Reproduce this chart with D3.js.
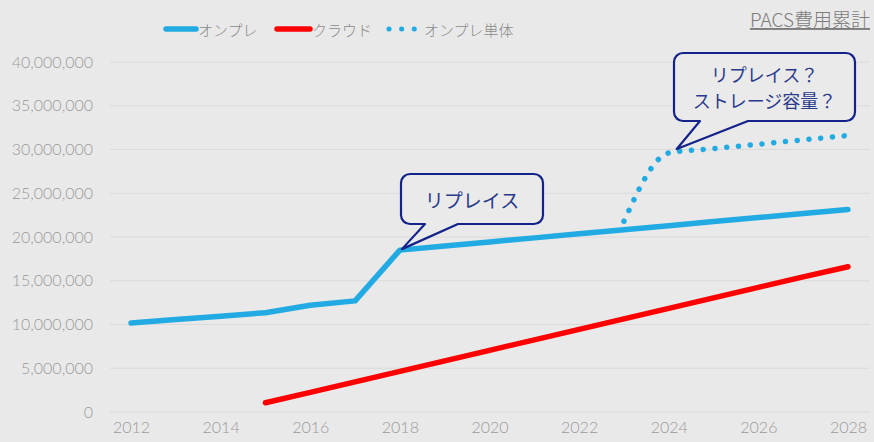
<!DOCTYPE html>
<html>
<head>
<meta charset="utf-8">
<script src="https://cdn.jsdelivr.net/npm/d3@7"></script>
<style>
  body { margin: 0; background: #e9e9e9; }
  #canvas { width: 874px; height: 442px; }
  text { font-family: Lato, "Noto Sans CJK JP", sans-serif; }
</style>
</head>
<body>
<div id="canvas"></div>
<script>
"use strict"

let svgWidth = 874;
let svgHeight = 442;

/* data (yen, cumulative) */
let years = [2012, 2013, 2014, 2015, 2016, 2017, 2018, 2019, 2020, 2021, 2022, 2023, 2024, 2025, 2026, 2027, 2028];
let onpre = [10170000, 10560000, 10950000, 11350000, 12200000, 12700000, 18500000, 18970000, 19430000,
             19900000, 20360000, 20830000, 21290000, 21760000, 22220000, 22690000, 23150000];

let cloudYears = [2015, 2016, 2017, 2018, 2019, 2020, 2021, 2022, 2023, 2024, 2025, 2026, 2027, 2028];
let cloud = [1060000, 2250000, 3450000, 4650000, 5850000, 7050000, 8250000, 9450000, 10650000,
             11850000, 13050000, 14250000, 15450000, 16600000];

let soloYears = [2023, 2024, 2025, 2026, 2027, 2028];
let solo = [21800000, 29600000, 30100000, 30600000, 31100000, 31600000];

let yTicks = [0, 5000000, 10000000, 15000000, 20000000, 25000000, 30000000, 35000000, 40000000];
let xTicks = [2012, 2014, 2016, 2018, 2020, 2022, 2024, 2026, 2028];

let seriesNames = ["オンプレ", "クラウド", "オンプレ単体"];

let blue = "#22aae2";
let red = "#ff0000";
let navy = "#13238a";

let svg = d3.select("#canvas")
    .append("svg")
    .attr("width", svgWidth)
    .attr("height", svgHeight);

svg.append("rect")
    .attr("width", svgWidth)
    .attr("height", svgHeight)
    .attr("fill", "#e9e9e9");

/* Scales */
let xScale = d3.scaleLinear()
    .domain([2012, 2028])
    .range([131, 848]);

let yScale = d3.scaleLinear()
    .domain([0, 40000000])
    .range([412, 62]);

/* gridlines */
svg.selectAll("line.grid")
    .data(yTicks)
    .join("line")
    .attr("class", "grid")
    .attr("x1", 110)
    .attr("x2", 870)
    .attr("y1", d => yScale(d))
    .attr("y2", d => yScale(d))
    .attr("stroke", "#dadada")
    .attr("stroke-width", 1);

/* y axis labels */
let yAxis = svg.append("g")
    .attr("transform", "translate(97,0)")
    .call(d3.axisLeft(yScale).tickValues(yTicks).tickFormat(d3.format(",")).tickSize(0).tickPadding(4));
yAxis.select(".domain").remove();
yAxis.selectAll("text")
    .attr("fill", "#9a9a9a")
    .style("font-size", "16px")
    .style("font-weight", "300")
    .style("font-family", "Lato, sans-serif");

/* x axis labels */
let xAxis = svg.append("g")
    .attr("transform", "translate(0,420)")
    .call(d3.axisBottom(xScale).tickValues(xTicks).tickFormat(d => d).tickSize(0).tickPadding(2));
xAxis.select(".domain").remove();
xAxis.selectAll("text")
    .attr("fill", "#9a9a9a")
    .style("font-size", "16px")
    .style("font-weight", "300")
    .style("font-family", "Lato, sans-serif");

/* lines */
let line = d3.line()
    .x(d => xScale(d[0]))
    .y(d => yScale(d[1]));

svg.append("path")
    .datum(d3.zip(cloudYears, cloud))
    .attr("d", line)
    .attr("fill", "none")
    .attr("stroke", red)
    .attr("stroke-width", 5.5)
    .attr("stroke-linecap", "round")
    .attr("stroke-linejoin", "round");

svg.append("path")
    .datum(d3.zip(years, onpre))
    .attr("d", line)
    .attr("fill", "none")
    .attr("stroke", blue)
    .attr("stroke-width", 5.5)
    .attr("stroke-linecap", "round")
    .attr("stroke-linejoin", "round");

svg.append("path")
    .datum(d3.zip(soloYears, solo))
    .attr("d", line.curve(d3.curveMonotoneX))
    .attr("fill", "none")
    .attr("stroke", blue)
    .attr("stroke-width", 5.5)
    .attr("stroke-linecap", "round")
    .attr("stroke-dasharray", "0.1 11.7");

/* callouts */
function callout(tipX, tipY, bx, by, bw, bh, t1, t2, lines) {
    let r = 9;
    let p = d3.path();
    p.moveTo(bx + r, by);
    p.lineTo(bx + bw - r, by);
    p.arcTo(bx + bw, by, bx + bw, by + r, r);
    p.lineTo(bx + bw, by + bh - r);
    p.arcTo(bx + bw, by + bh, bx + bw - r, by + bh, r);
    p.lineTo(t2, by + bh);
    p.lineTo(tipX, tipY);
    p.lineTo(t1, by + bh);
    p.lineTo(bx + r, by + bh);
    p.arcTo(bx, by + bh, bx, by + bh - r, r);
    p.lineTo(bx, by + r);
    p.arcTo(bx, by, bx + r, by, r);
    p.closePath();
    svg.append("path")
        .attr("d", p.toString())
        .attr("fill", "#eaeaea")
        .attr("stroke", navy)
        .attr("stroke-width", 2.2)
        .attr("stroke-linejoin", "round");

    lines.forEach(function(s, i) {
        svg.append("text")
            .attr("x", bx + bw / 2)
            .attr("y", by + bh / 2 + (i - (lines.length - 1) / 2) * 26.5)
            .attr("text-anchor", "middle")
            .attr("dominant-baseline", "central")
            .attr("fill", "#2a3a8c")
            .style("font-size", lines.length > 1 ? "18px" : "19px")
            .style("font-family", "'Noto Sans CJK JP', sans-serif")
            .text(s);
    });
}

callout(xScale(2018) + 2, yScale(onpre[6]) - 1, 401, 174, 142, 50, 425, 458, ["リプレイス"]);
callout(xScale(2024) + 8, yScale(solo[1]) - 4, 674, 53, 181, 68, 700, 748, ["リプレイス？", "ストレージ容量？"]);

/* legend */
let legend = svg.append("g");
legend.append("line")
    .attr("x1", 166).attr("x2", 196).attr("y1", 29).attr("y2", 29)
    .attr("stroke", blue).attr("stroke-width", 5.5).attr("stroke-linecap", "round");
legend.append("line")
    .attr("x1", 277).attr("x2", 310).attr("y1", 29).attr("y2", 29)
    .attr("stroke", red).attr("stroke-width", 5.5).attr("stroke-linecap", "round");
legend.append("line")
    .attr("x1", 389).attr("x2", 415).attr("y1", 29).attr("y2", 29)
    .attr("stroke", blue).attr("stroke-width", 5).attr("stroke-linecap", "round")
    .attr("stroke-dasharray", "0.1 12.5");

[198, 312, 424].forEach(function(x, i) {
    legend.append("text")
        .attr("x", x)
        .attr("y", 29)
        .attr("dominant-baseline", "central")
        .attr("fill", "#8a8a8a")
        .style("font-size", "15px")
        .style("font-family", "'Noto Sans CJK JP', sans-serif")
        .style("font-weight", "300")
        .text(seriesNames[i]);
});

/* title */
svg.append("text")
    .attr("x", 870)
    .attr("y", 27)
    .attr("text-anchor", "end")
    .attr("fill", "#7c7c7c")
    .style("font-size", "19px")
    .style("font-family", "'Noto Sans CJK JP', sans-serif")
    .style("font-weight", "300")
    .style("text-decoration", "underline")
    .text("PACS費用累計");
</script>
</body>
</html>
